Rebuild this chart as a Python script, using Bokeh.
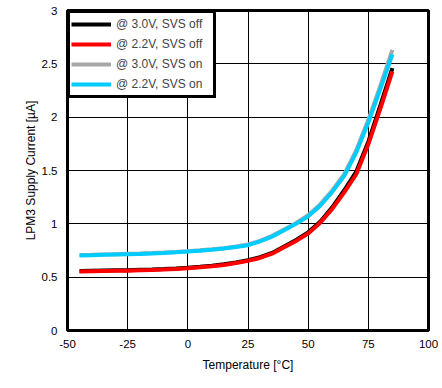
from bokeh.plotting import figure
from bokeh.models import Legend, LegendItem, FixedTicker, NumeralTickFormatter, Range1d
from bokeh.embed import file_html
from bokeh.resources import INLINE

temps = [-45, -40, -35, -30, -25, -20, -15, -10, -5, 0, 5, 10, 15, 20, 25, 30, 35, 40, 45, 50, 55, 60, 65, 70, 75, 80, 85]

i_30_off = [0.558, 0.560, 0.562, 0.564, 0.566, 0.569, 0.572, 0.576, 0.582, 0.589, 0.598, 0.608, 0.621, 0.638, 0.659, 0.687, 0.727, 0.787, 0.848, 0.920, 1.020, 1.155, 1.315, 1.490, 1.770, 2.110, 2.460]
i_22_off = [0.553, 0.555, 0.557, 0.559, 0.561, 0.564, 0.567, 0.571, 0.577, 0.584, 0.593, 0.603, 0.615, 0.632, 0.653, 0.680, 0.720, 0.780, 0.840, 0.910, 1.010, 1.140, 1.295, 1.465, 1.745, 2.080, 2.430]
i_30_on = [0.708, 0.710, 0.713, 0.716, 0.719, 0.722, 0.726, 0.731, 0.737, 0.744, 0.752, 0.761, 0.772, 0.787, 0.806, 0.841, 0.887, 0.947, 1.008, 1.080, 1.182, 1.312, 1.465, 1.690, 1.975, 2.295, 2.630]
i_22_on = [0.703, 0.706, 0.709, 0.712, 0.715, 0.718, 0.722, 0.727, 0.733, 0.740, 0.748, 0.757, 0.768, 0.782, 0.800, 0.835, 0.880, 0.940, 1.000, 1.070, 1.170, 1.300, 1.450, 1.670, 1.950, 2.265, 2.590]

series_labels = ["@ 3.0V, SVS off", "@ 2.2V, SVS off", "@ 3.0V, SVS on", "@ 2.2V, SVS on"]
series_colors = ["#000000", "#ff0000", "#a8a8a8", "#00ccff"]

x_ticks = [-50, -25, 0, 25, 50, 75, 100]
x_tick_labels = ["-50", "-25", "0", "25", "50", "75", "100"]
y_ticks = [0, 0.5, 1, 1.5, 2, 2.5, 3]

FONT = "Liberation Sans"

p = figure(width=440, height=380, output_backend="svg", toolbar_location=None,
           x_range=Range1d(-50, 100), y_range=Range1d(0, 3),
           min_border_left=67, min_border_right=12, min_border_top=10, min_border_bottom=50)

p.outline_line_color = "black"
p.outline_line_width = 3
p.outline_line_alpha = 1
p.background_fill_color = "white"
p.border_fill_color = "white"

for ax in (p.xaxis[0], p.yaxis[0]):
    ax.axis_line_color = None
    ax.major_tick_line_color = None
    ax.minor_tick_line_color = None
    ax.major_tick_out = 0
    ax.major_tick_in = 0
    ax.minor_tick_out = 0
    ax.minor_tick_in = 0
    ax.major_label_text_font = FONT
    ax.major_label_text_font_size = "11.5px"
    ax.major_label_text_color = "black"
    ax.axis_label_text_font = FONT
    ax.axis_label_text_font_size = "12px"
    ax.axis_label_text_font_style = "normal"
    ax.axis_label_text_color = "black"

xt = FixedTicker(ticks=x_ticks)
yt = FixedTicker(ticks=y_ticks)
p.xaxis.ticker = xt
p.yaxis.ticker = yt
p.xgrid.ticker = xt
p.ygrid.ticker = yt
p.xaxis.major_label_overrides = {t: s for t, s in zip(x_ticks, x_tick_labels)}
p.yaxis.formatter = NumeralTickFormatter(format="0[.]0")
p.xaxis.major_label_standoff = 9
p.yaxis.major_label_standoff = 10
p.xaxis.axis_label = "Temperature [°C]"
p.yaxis.axis_label = "LPM3 Supply Current [µA]"
p.xaxis.axis_label_standoff = 7
p.yaxis.axis_label_standoff = 1

for g in (p.xgrid[0], p.ygrid[0]):
    g.grid_line_color = "black"
    g.grid_line_width = 1
    g.grid_line_alpha = 1

renderers = []
for ys, col in zip([i_30_off, i_22_off, i_30_on, i_22_on], series_colors):
    r = p.line(temps, ys, line_color=col, line_width=4)
    renderers.append(r)

legend = Legend(items=[LegendItem(label=l, renderers=[r]) for l, r in zip(series_labels, renderers)],
                location="top_left", margin=0, padding=1, spacing=0,
                glyph_width=40, glyph_height=20, label_height=20, label_standoff=5,
                label_width=96,
                label_text_font=FONT, label_text_font_size="12px",
                border_line_color="black", border_line_width=3, border_line_alpha=1,
                background_fill_color="white", background_fill_alpha=1)
p.add_layout(legend)

open("out.html", "w").write(file_html(p, INLINE))
